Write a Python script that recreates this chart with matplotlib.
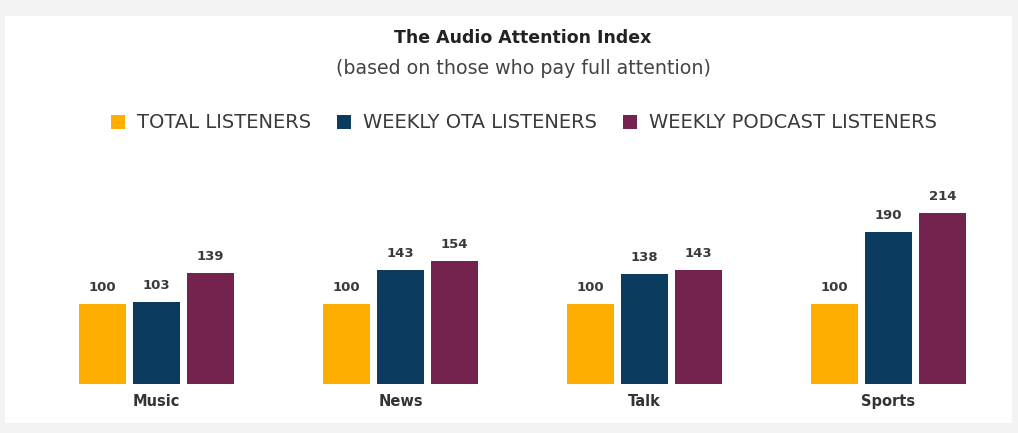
import numpy as np
import matplotlib.pyplot as plt
from matplotlib.patches import Rectangle, Patch

# audio attention index per genre
genres = ['Music', 'News', 'Talk', 'Sports']
total_listeners = [100, 100, 100, 100]
weekly_ota = [103, 143, 138, 190]
weekly_podcast = [139, 154, 143, 214]
series_names = ['TOTAL LISTENERS', 'WEEKLY OTA LISTENERS', 'WEEKLY PODCAST LISTENERS']
colors = ['#FDAE00', '#0B3B5E', '#74234F']

W, H = 1018, 433
fig = plt.figure(figsize=(W / 100, H / 100), dpi=100, facecolor='#f3f3f3')

# white card on the grey background
fig.patches.append(Rectangle((5 / W, 1 - 423 / H), 1007 / W, 407 / H,
                             transform=fig.transFigure, facecolor='white',
                             edgecolor='none', zorder=-1))

ax = fig.add_axes([34.5 / W, 49 / H, 976 / W, 194 / H])
ax.set_facecolor('none')

x = np.arange(len(genres))
width = 47 / 244
step = 54 / 244
all_series = [total_listeners, weekly_ota, weekly_podcast]
for i, vals in enumerate(all_series):
    pos = x + (i - 1) * step
    bars = ax.bar(pos, vals, width, color=colors[i], label=series_names[i])
    for b, v in zip(bars, vals):
        ax.text(b.get_x() + b.get_width() / 2, v + 12, str(v), ha='center',
                va='bottom', fontsize=9.5, fontweight='bold', color='#3a3a3a')

ax.set_xlim(-0.5, 3.5)
ax.set_ylim(0, 242.5)
ax.set_xticks(x)
ax.set_xticklabels(genres, fontsize=10.5, fontweight='bold', color='#333333')
ax.tick_params(axis='x', length=0, pad=7)
ax.set_yticks([])
for s in ax.spines.values():
    s.set_visible(False)

fig.text(523 / W, 1 - 38 / H, 'The Audio Attention Index', ha='center', va='center',
         fontsize=12.5, fontweight='bold', color='#222222')
fig.text(523 / W, 1 - 69 / H, '(based on those who pay full attention)', ha='center',
         va='center', fontsize=13.7, color='#444444')

handles = [Patch(facecolor=c, edgecolor='none') for c in colors]
fig.legend(handles, series_names, loc='center', bbox_to_anchor=(524 / W, 1 - 123 / H),
           ncol=3, frameon=False, fontsize=14, labelcolor='#3a3a3a',
           handlelength=0.75, handleheight=0.7, handletextpad=0.62, columnspacing=1.3)

fig.savefig('out.png', dpi=100, facecolor=fig.get_facecolor())
